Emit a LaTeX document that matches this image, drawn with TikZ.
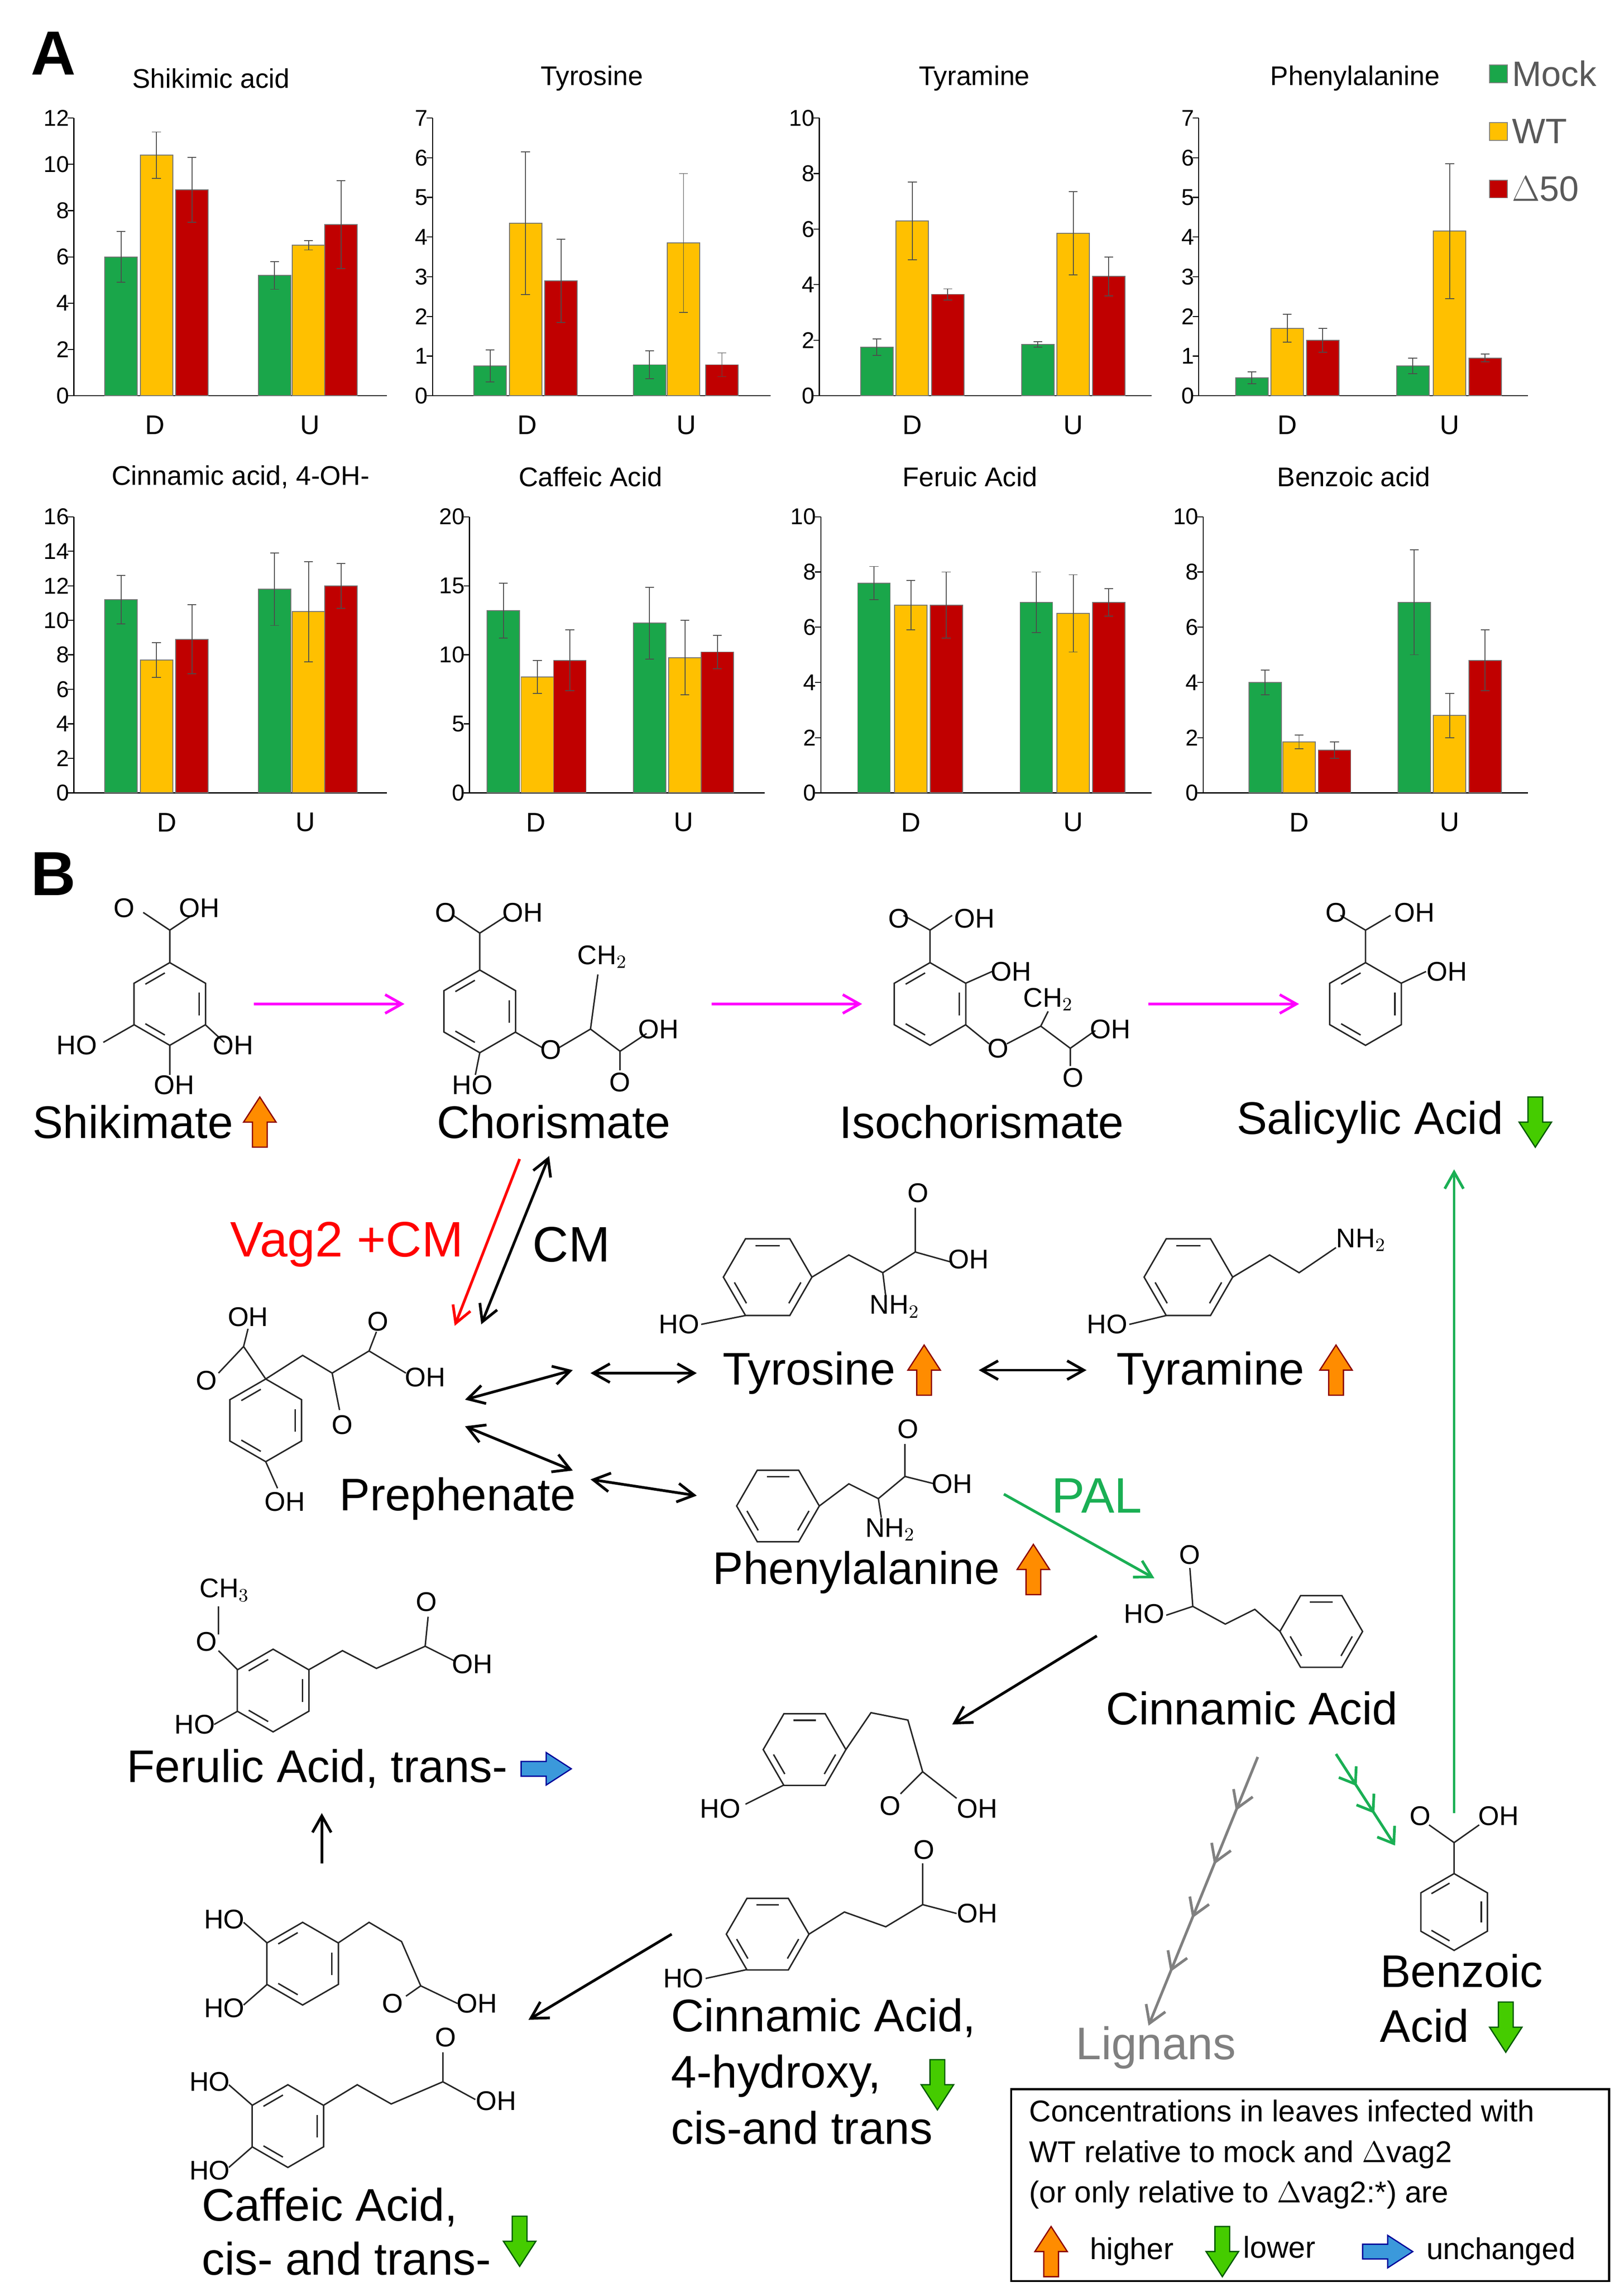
\documentclass[tikz,border=0pt]{standalone}
\usepackage{fontspec}
\setmainfont{Liberation Sans}
\usetikzlibrary{arrows.meta,decorations.markings}
\definecolor{cG}{HTML}{1AA64A}
\definecolor{cY}{HTML}{FFC000}
\definecolor{cR}{HTML}{C00000}
\definecolor{cMag}{HTML}{FF00FF}
\definecolor{cPal}{HTML}{1AAF54}
\tikzset{
 lab/.style={font=\fontsize{22}{26}\selectfont,inner sep=1pt},
 chem/.style={font=\fontsize{13}{15}\selectfont,inner sep=0.5pt},
 tick/.style={font=\fontsize{11}{12}\selectfont,inner sep=2pt},
 ttl/.style={font=\fontsize{13}{15}\selectfont},
 bond/.style={line width=0.7pt,black!85},
 arr/.style={line width=1.3pt,-{Straight Barb[length=8pt,width=9pt]}},
 darr/.style={line width=1.3pt,{Straight Barb[length=8pt,width=9pt]}-{Straight Barb[length=8pt,width=9pt]}},
}
\newcommand\mybar[4]{\filldraw[fill=#4,draw=black!55,line width=0.4pt] (#1-11,0) rectangle (#1+11,#2);
 \draw[line width=0.4pt,black!70] (#1,{#2-#3})--(#1,{#2+#3}) (#1-3,{#2+#3})--(#1+3,{#2+#3}) (#1-3,{#2-#3})--(#1+3,{#2-#3});}
\newcommand\myaxes[4]{\draw[line width=0.5pt] (#1,0)--(#1,#3) (#1,0)--(#2,0);
 \foreach \t in {#4}{\draw[line width=0.5pt] (#1-4,\t)--(#1,\t) node[tick,left]{\t};}}
\newcommand\ring[4]{\draw[bond] (#1,#2)+(#4:#3)--+(#4+60:#3)--+(#4+120:#3)--+(#4+180:#3)--+(#4+240:#3)--+(#4+300:#3)--cycle;
 \foreach \k in {0,2,4}{\draw[bond] (#1,#2)+({#4+60*\k+9}:0.76*#3)--+({#4+60*\k+51}:0.76*#3);}}
\newcommand\uparr[2]{\filldraw[fill=orange!90!yellow,draw=red!55!black,line width=0.6pt] (#1,#2) ++(-5,17)--++(10,0)--++(0,-17)--++(6,0)--++(-11,-17)--++(-11,17)--++(6,0)--cycle;}
\newcommand\dnarr[2]{\filldraw[fill=green!55!lime!80!black,draw=green!35!black,line width=0.6pt] (#1,#2) ++(-5,-17)--++(10,0)--++(0,17)--++(6,0)--++(-11,17)--++(-11,-17)--++(6,0)--cycle;}
\newcommand\rtarr[2]{\filldraw[fill=cyan!70!blue!80,draw=blue!60!black,line width=0.6pt] (#1,#2) ++(-17,-5)--++(0,10)--++(17,0)--++(0,6)--++(17,-11)--++(-17,-11)--++(0,6)--cycle;}
\begin{document}
\begin{tikzpicture}[x=0.025cm,y=-0.025cm]
\useasboundingbox (0,0) rectangle (1100,1549);
\node[font=\bfseries\fontsize{30}{32}\selectfont] (A) at (36,36) {A};
\node[font=\bfseries\fontsize{30}{32}\selectfont] (B) at (36,592) {B};
% ---------- row 1
\begin{scope}[shift={(0,268)},yscale=-188/12]
\myaxes{50}{262}{12}{0,2,...,12}
\mybar{82}{6.0}{1.1}{cG}\mybar{106}{10.4}{1.0}{cY}\mybar{130}{8.9}{1.4}{cR}
\mybar{186}{5.2}{0.6}{cG}\mybar{209}{6.5}{0.2}{cY}\mybar{231}{7.4}{1.9}{cR}
\end{scope}
\begin{scope}[shift={(0,268)},yscale=-188/7]
\myaxes{293}{522}{7}{0,1,...,7}
\mybar{332}{0.75}{0.4}{cG}\mybar{356}{4.35}{1.8}{cY}\mybar{380}{2.9}{1.05}{cR}
\mybar{440}{0.78}{0.35}{cG}\mybar{463}{3.85}{1.75}{cY}\mybar{489}{0.78}{0.3}{cR}
\end{scope}
\begin{scope}[shift={(0,268)},yscale=-188/10]
\myaxes{555}{780}{10}{0,2,...,10}
\mybar{594}{1.75}{0.3}{cG}\mybar{618}{6.3}{1.4}{cY}\mybar{642}{3.65}{0.2}{cR}
\mybar{703}{1.85}{0.1}{cG}\mybar{727}{5.85}{1.5}{cY}\mybar{751}{4.3}{0.7}{cR}
\end{scope}
\begin{scope}[shift={(0,268)},yscale=-188/7]
\myaxes{812}{1035}{7}{0,1,...,7}
\mybar{848}{0.45}{0.15}{cG}\mybar{872}{1.7}{0.35}{cY}\mybar{896}{1.4}{0.3}{cR}
\mybar{957}{0.75}{0.2}{cG}\mybar{982}{4.15}{1.7}{cY}\mybar{1006}{0.95}{0.1}{cR}
\end{scope}
% ---------- row 2
\begin{scope}[shift={(0,537)},yscale=-187/16]
\myaxes{50}{262}{16}{0,2,...,16}
\mybar{82}{11.2}{1.4}{cG}\mybar{106}{7.7}{1.0}{cY}\mybar{130}{8.9}{2.0}{cR}
\mybar{186}{11.8}{2.1}{cG}\mybar{209}{10.5}{2.9}{cY}\mybar{231}{12.0}{1.3}{cR}
\end{scope}
\begin{scope}[shift={(0,537)},yscale=-187/20]
\myaxes{318}{518}{20}{0,5,...,20}
\mybar{341}{13.2}{2.0}{cG}\mybar{364}{8.4}{1.2}{cY}\mybar{386}{9.6}{2.2}{cR}
\mybar{440}{12.3}{2.6}{cG}\mybar{464}{9.8}{2.7}{cY}\mybar{486}{10.2}{1.2}{cR}
\end{scope}
\begin{scope}[shift={(0,537)},yscale=-187/10]
\myaxes{556}{780}{10}{0,2,...,10}
\mybar{592}{7.6}{0.6}{cG}\mybar{617}{6.8}{0.9}{cY}\mybar{641}{6.8}{1.2}{cR}
\mybar{702}{6.9}{1.1}{cG}\mybar{727}{6.5}{1.4}{cY}\mybar{751}{6.9}{0.5}{cR}
\end{scope}
\begin{scope}[shift={(0,537)},yscale=-187/10]
\myaxes{815}{1035}{10}{0,2,...,10}
\mybar{857}{4.0}{0.45}{cG}\mybar{880}{1.85}{0.25}{cY}\mybar{904}{1.55}{0.3}{cR}
\mybar{958}{6.9}{1.9}{cG}\mybar{982}{2.8}{0.8}{cY}\mybar{1006}{4.8}{1.1}{cR}
\end{scope}
% titles and group labels
\foreach \n/\x/\t in {t1/143/Shikimic acid,t2/401/Tyrosine,t3/660/Tyramine,t4/918/Phenylalanine}{\node[ttl] (\n) at (\x,53) {\t};}
\foreach \n/\x/\t in {t5/163/{Cinnamic acid, 4-OH-},t6/400/Caffeic Acid,t7/657/Feruic Acid,t8/917/Benzoic acid}{\node[ttl] (\n) at (\x,323) {\t};}
\foreach \n/\x in {d1/105,d2/357,d3/618,d4/872}{\node[ttl] (\n) at (\x,288) {D};}
\foreach \n/\x in {u1/210,u2/465,u3/727,u4/982}{\node[ttl] (\n) at (\x,288) {U};}
\foreach \n/\x in {d5/113,d6/363,d7/617,d8/880}{\node[ttl] (\n) at (\x,557) {D};}
\foreach \n/\x in {u5/207,u6/463,u7/727,u8/982}{\node[ttl] (\n) at (\x,557) {U};}
% legend
\foreach \n/\y/\c/\t in {lm/50/cG/Mock,lw/89/cY/WT,lr/128/cR/$\Delta$50}{
 \filldraw[fill=\c,draw=black!50] (1009,\y-6) rectangle (1021,\y+6);
 \node[font=\fontsize{17}{19}\selectfont,text=black!65,anchor=west,inner sep=0] (\n) at (1024,\y) {\t};}
% ---------- molecules
% shikimate
\ring{115}{680}{28}{90}
\draw[bond] (115,652)--(115,630)--(97,618) (115,630)--(130,620);
\draw[bond] (91,694)--(70,706) (139,694)--(152,706) (115,708)--(115,728);
\node[chem] (s1) at (84,615) {O}; \node[chem] (s2) at (135,615) {OH};
\node[chem] (s3) at (52,708) {HO}; \node[chem] (s4) at (158,708) {OH}; \node[chem] (s5) at (118,735) {OH};
% chorismate
\ring{325}{685}{28}{90}
\draw[bond] (325,657)--(325,632)--(307,620) (325,632)--(342,621);
\draw[bond] (349,699)--(368,710) (378,710)--(400,697)--(405,660) (400,697)--(420,712)--(438,700) (420,712)--(420,725) (325,713)--(322,728);
\node[chem] (c1) at (302,618) {O}; \node[chem] (c2) at (354,618) {OH};
\node[chem] (c3) at (408,648) {CH$_2$}; \node[chem] (c4) at (446,697) {OH};
\node[chem] (c5) at (373,711) {O}; \node[chem] (c6) at (420,733) {O}; \node[chem] (c7) at (320,735) {HO};
% isochorismate
\ring{630}{680}{28}{90}
\draw[bond] (630,652)--(630,630)--(612,620) (630,630)--(645,620) (654,666)--(672,658);
\draw[bond] (654,694)--(670,707) (682,707)--(705,695)--(710,685) (705,695)--(725,710)--(742,698) (725,710)--(725,722);
\node[chem] (i1) at (609,622) {O}; \node[chem] (i2) at (660,622) {OH}; \node[chem] (i3) at (685,658) {OH};
\node[chem] (i4) at (710,677) {CH$_2$}; \node[chem] (i5) at (752,697) {OH}; \node[chem] (i6) at (676,710) {O}; \node[chem] (i7) at (727,730) {O};
% salicylic
\ring{925}{680}{28}{90}
\draw[bond] (925,652)--(925,630)--(908,620) (925,630)--(942,620) (949,666)--(966,658);
\node[chem] (a1) at (905,618) {O}; \node[chem] (a2) at (958,618) {OH}; \node[chem] (a3) at (980,658) {OH};
% prephenate
\ring{180}{962}{28}{90}
\draw[bond] (180,934)--(165,912)--(168,900) (165,912)--(148,930) (180,934)--(205,918)--(225,930)--(250,915)--(255,902) (250,915)--(275,930) (225,930)--(230,955) (180,990)--(188,1008);
\node[chem] (p1) at (168,892) {OH}; \node[chem] (p2) at (140,935) {O}; \node[chem] (p3) at (256,895) {O};
\node[chem] (p4) at (288,933) {OH}; \node[chem] (p5) at (232,965) {O}; \node[chem] (p6) at (193,1017) {OH};
% tyrosine
\ring{520}{865}{30}{0}
\draw[bond] (505,891)--(475,897) (550,865)--(575,850)--(598,862)--(620,848)--(620,818) (620,848)--(645,855) (598,862)--(600,878);
\node[chem] (y1) at (460,897) {HO}; \node[chem] (y2) at (622,808) {O}; \node[chem] (y3) at (656,853) {OH}; \node[chem] (y4) at (606,885) {NH$_2$};
% tyramine
\ring{805}{865}{30}{0}
\draw[bond] (790,891)--(765,897) (835,865)--(860,850)--(880,862)--(905,845);
\node[chem] (m1) at (750,897) {HO}; \node[chem] (m2) at (922,840) {NH$_2$};
% phenylalanine
\ring{527}{1020}{28}{0}
\draw[bond] (555,1020)--(575,1005)--(595,1015)--(613,1000)--(613,978) (613,1000)--(633,1005) (595,1015)--(597,1028);
\node[chem] (f1) at (615,968) {O}; \node[chem] (f2) at (645,1005) {OH}; \node[chem] (f3) at (603,1036) {NH$_2$};
% cinnamic
\ring{895}{1105}{28}{0}
\draw[bond] (867,1105)--(850,1090)--(830,1100)--(808,1088) (808,1088)--(806,1062) (808,1088)--(790,1094);
\node[chem] (n1) at (775,1093) {HO}; \node[chem] (n2) at (806,1053) {O};
% ferulic
\ring{185}{1145}{28}{90}
\draw[bond] (161,1131)--(148,1118) (148,1107)--(148,1088) (161,1159)--(145,1168) (209,1131)--(232,1118)--(255,1130)--(288,1115)--(290,1095) (288,1115)--(308,1125);
\node[chem] (e1) at (152,1077) {CH$_3$}; \node[chem] (e2) at (140,1112) {O}; \node[chem] (e3) at (132,1168) {HO}; \node[chem] (e4) at (289,1085) {O}; \node[chem] (e5) at (320,1127) {OH};
% cis 4-OH cinnamic
\ring{545}{1185}{28}{0}
\draw[bond] (531,1209)--(505,1222) (573,1185)--(590,1160)--(615,1165)--(625,1200)--(610,1215) (625,1200)--(648,1218);
\node[chem] (h1) at (488,1225) {HO}; \node[chem] (h2) at (603,1223) {O}; \node[chem] (h3) at (662,1225) {OH};
% trans 4-OH cinnamic
\ring{520}{1310}{28}{0}
\draw[bond] (506,1334)--(478,1340) (548,1310)--(572,1295)--(600,1305)--(625,1290)--(625,1262) (625,1290)--(648,1296);
\node[chem] (g1) at (463,1340) {HO}; \node[chem] (g2) at (626,1253) {O}; \node[chem] (g3) at (662,1296) {OH};
% cis caffeic
\ring{205}{1330}{28}{90}
\draw[bond] (181,1316)--(165,1302) (181,1344)--(165,1358) (229,1316)--(250,1302)--(272,1315)--(285,1345)--(275,1352) (285,1345)--(310,1357);
\node[chem] (k1) at (152,1300) {HO}; \node[chem] (k2) at (152,1360) {HO}; \node[chem] (k3) at (266,1357) {O}; \node[chem] (k4) at (323,1357) {OH};
% trans caffeic
\ring{195}{1440}{28}{90}
\draw[bond] (171,1426)--(155,1412) (171,1454)--(155,1468) (219,1426)--(242,1412)--(265,1425)--(300,1410)--(300,1390) (300,1410)--(322,1422);
\node[chem] (j1) at (142,1410) {HO}; \node[chem] (j2) at (142,1470) {HO}; \node[chem] (j3) at (302,1380) {O}; \node[chem] (j4) at (336,1423) {OH};
% benzoic
\ring{985}{1295}{26}{90}
\draw[bond] (985,1269)--(985,1248)--(968,1236) (985,1248)--(1002,1236);
\node[chem] (b1) at (962,1230) {O}; \node[chem] (b2) at (1015,1230) {OH};
% ---------- labels
\node[lab] (shik) at (90,760) {Shikimate}; \uparr{176}{760}
\node[lab] (chor) at (375,760) {Chorismate};
\node[lab] (iso) at (665,760) {Isochorismate};
\node[lab] (sal) at (928,760) {Salicylic Acid}; \node[font=\fontsize{12}{12}\selectfont] (star) at (1040,752) {*}; \dnarr{1040}{760}
\node[lab,text=red,font=\fontsize{24}{28}\selectfont] (vag) at (235,843) {Vag2 +CM};
\node[lab,font=\fontsize{24}{28}\selectfont] (cm) at (387,843) {CM};
\node[lab] (tyr) at (548,930) {Tyrosine}; \uparr{626}{928}
\node[lab] (tym) at (820,930) {Tyramine}; \uparr{905}{928}
\node[lab] (pre) at (310,1015) {Prephenate};
\node[lab] (phe) at (580,1065) {Phenylalanine}; \uparr{700}{1063}
\node[lab,text=cPal,font=\fontsize{24}{28}\selectfont] (pal) at (743,1013) {PAL};
\node[lab] (cin) at (848,1157) {Cinnamic Acid};
\node[lab] (fer) at (215,1198) {Ferulic Acid, trans-}; \rtarr{370}{1198}
\node[lab,anchor=north west,align=left,font=\fontsize{22}{27}\selectfont] (hcin) at (453,1352) {Cinnamic Acid,\\4-hydroxy,\\cis-and trans}; \dnarr{635}{1412}
\node[lab,anchor=north west,align=left,font=\fontsize{22}{26}\selectfont] (caf) at (135,1480) {Caffeic Acid,\\cis- and trans-}; \dnarr{352}{1518}
\node[lab,text=gray] (lig) at (783,1387) {Lignans};
\node[lab] (benz1) at (990,1335) {Benzoic};
\node[lab] (benz2) at (965,1372) {Acid}; \dnarr{1020}{1373}
% ---------- arrows
\coordinate (m1a) at (172,680); \coordinate (m1b) at (274,680);
\coordinate (m2a) at (482,680); \coordinate (m2b) at (584,680);
\coordinate (m3a) at (778,680); \coordinate (m3b) at (880,680);
\foreach \u/\v in {m1a/m1b,m2a/m2b,m3a/m3b}{\draw[arr,cMag] (\u)--(\v);}
\coordinate (ra) at (352,785); \coordinate (rb) at (308,898);
\draw[arr,red] (ra)--(rb);
\coordinate (ka) at (372,783); \coordinate (kb) at (326,897);
\draw[darr] (ka)--(kb);
\coordinate (q1a) at (315,948); \coordinate (q1b) at (388,928);
\coordinate (q2a) at (315,966); \coordinate (q2b) at (388,996);
\coordinate (q3a) at (400,930); \coordinate (q3b) at (472,930);
\coordinate (q4a) at (400,1002); \coordinate (q4b) at (472,1013);
\coordinate (q5a) at (663,928); \coordinate (q5b) at (736,928);
\foreach \u/\v in {q1a/q1b,q2a/q2b,q3a/q3b,q4a/q4b,q5a/q5b}{\draw[darr] (\u)--(\v);}
\coordinate (pa) at (680,1012); \coordinate (pb) at (782,1069);
\draw[arr,cPal] (pa)--(pb);
\coordinate (xa) at (743,1108); \coordinate (xb) at (645,1168);
\coordinate (xc) at (455,1310); \coordinate (xd) at (358,1368);
\coordinate (xe) at (218,1262); \coordinate (xf) at (218,1228);
\foreach \u/\v in {xa/xb,xc/xd,xe/xf}{\draw[arr] (\u)--(\v);}
\coordinate (la) at (852,1190); \coordinate (lb) at (778,1372);
\draw[line width=1.3pt,gray,decoration={markings,mark=between positions 0.2 and 0.8 step 0.2 with {\arrow{Straight Barb[length=8pt,width=10pt]}}},postaction={decorate},-{Straight Barb[length=8pt,width=10pt]}] (la)--(lb);
\coordinate (ga) at (905,1188); \coordinate (gb) at (945,1250);
\draw[line width=1.3pt,cPal,decoration={markings,mark=at position 0.35 with {\arrow{Straight Barb[length=7pt,width=10pt]}},mark=at position 0.65 with {\arrow{Straight Barb[length=7pt,width=10pt]}}},postaction={decorate},-{Straight Barb[length=7pt,width=10pt]}] (ga)--(gb);
\coordinate (sa) at (985,1228); \coordinate (sb) at (985,792);
\draw[arr,cPal] (sa)--(sb);
% ---------- legend box
\node[draw,line width=1pt,minimum width=405*0.025cm,minimum height=130*0.025cm] (box) at (887.5,1480) {};
\node[anchor=north west,align=left,font=\fontsize{14.5}{19.5}\selectfont,inner sep=0] (boxt) at (697,1422) {Concentrations in leaves infected with\\WT relative to mock and $\Delta$vag2\\(or only relative to $\Delta$vag2:*) are};
\uparr{712}{1525}
\node[anchor=west,font=\fontsize{14.5}{17}\selectfont,inner sep=0] (hi) at (738,1525) {higher};
\dnarr{828}{1525}
\node[anchor=west,font=\fontsize{14.5}{17}\selectfont,inner sep=0] (lo) at (842,1522) {lower};
\rtarr{940}{1525}
\node[anchor=west,font=\fontsize{14.5}{17}\selectfont,inner sep=0] (un) at (966,1525) {unchanged};
\end{tikzpicture}
\end{document}
